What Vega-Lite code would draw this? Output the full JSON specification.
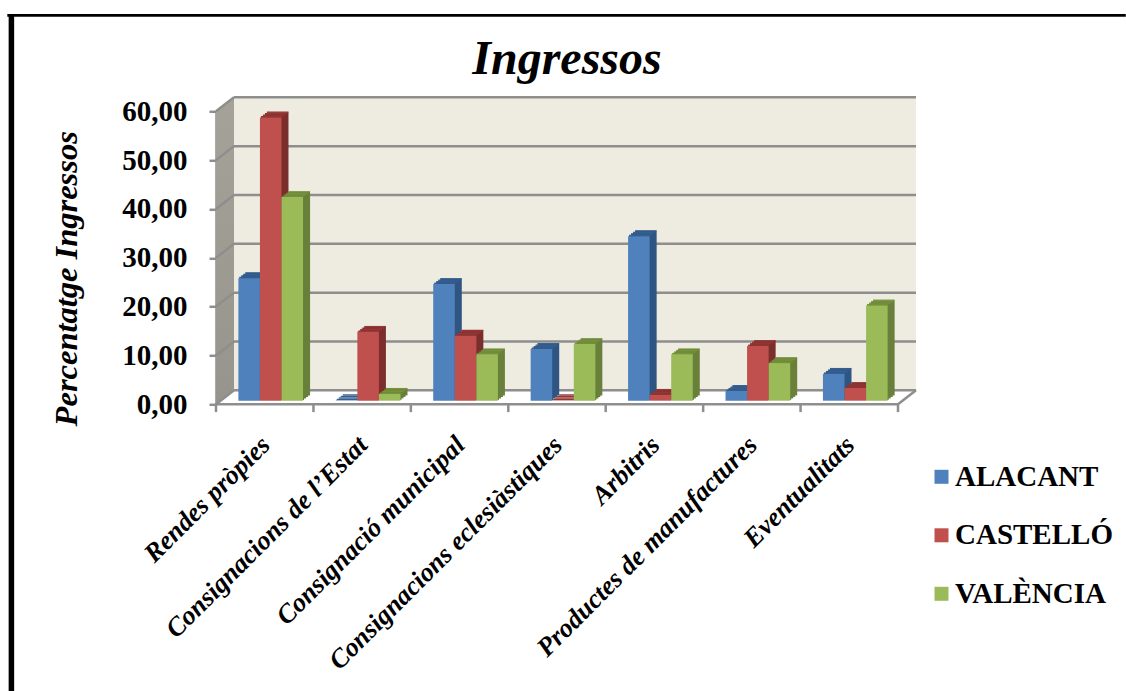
{"$schema":"https://vega.github.io/schema/vega-lite/v6.json","width":682,"height":293,"autosize":{"type":"none"},"padding":{"left":216,"top":111.3,"right":228,"bottom":286.7},"background":"white","config":{"view":{"stroke":null}},
"title":{"text":"Ingressos","font":"Liberation Serif","fontSize":48,"fontWeight":"bold","fontStyle":"italic","color":"black","anchor":"middle","dx":10,"offset":-73},
"datasets":{"bars":[
{"cat":"Rendes pròpies","s":"ALACANT","v":25.1},{"cat":"Rendes pròpies","s":"CASTELLÓ","v":58.0},{"cat":"Rendes pròpies","s":"VALÈNCIA","v":41.7},
{"cat":"Consignacions de l’Estat","s":"ALACANT","v":0.1},{"cat":"Consignacions de l’Estat","s":"CASTELLÓ","v":14.1},{"cat":"Consignacions de l’Estat","s":"VALÈNCIA","v":1.4},
{"cat":"Consignació municipal","s":"ALACANT","v":23.9},{"cat":"Consignació municipal","s":"CASTELLÓ","v":13.3},{"cat":"Consignació municipal","s":"VALÈNCIA","v":9.5},
{"cat":"Consignacions eclesiàstiques","s":"ALACANT","v":10.6},{"cat":"Consignacions eclesiàstiques","s":"CASTELLÓ","v":0.1},{"cat":"Consignacions eclesiàstiques","s":"VALÈNCIA","v":11.6},
{"cat":"Arbitris","s":"ALACANT","v":33.7},{"cat":"Arbitris","s":"CASTELLÓ","v":1.2},{"cat":"Arbitris","s":"VALÈNCIA","v":9.5},
{"cat":"Productes de manufactures","s":"ALACANT","v":2.0},{"cat":"Productes de manufactures","s":"CASTELLÓ","v":11.2},{"cat":"Productes de manufactures","s":"VALÈNCIA","v":7.7},
{"cat":"Eventualitats","s":"ALACANT","v":5.5},{"cat":"Eventualitats","s":"CASTELLÓ","v":2.6},{"cat":"Eventualitats","s":"VALÈNCIA","v":19.5}],
"side":[{"x":0,"y":0,"y2":60},{"x":0.0264,"y":2.87,"y2":62.87}],
"wall":[{"x":0,"x2":1,"y":0,"y2":60}],
"grid":[{"x":0,"x2":1,"y":0},{"x":0,"x2":1,"y":10},{"x":0,"x2":1,"y":20},{"x":0,"x2":1,"y":30},{"x":0,"x2":1,"y":40},{"x":0,"x2":1,"y":50},{"x":0,"x2":1,"y":60}],
"diag":[{"k":0,"x":0,"y":0},{"k":0,"x":0.0264,"y":2.87},{"k":10,"x":0,"y":10},{"k":10,"x":0.0264,"y":12.87},{"k":20,"x":0,"y":20},{"k":20,"x":0.0264,"y":22.87},{"k":30,"x":0,"y":30},{"k":30,"x":0.0264,"y":32.87},{"k":40,"x":0,"y":40},{"k":40,"x":0.0264,"y":42.87},{"k":50,"x":0,"y":50},{"k":50,"x":0.0264,"y":52.87},{"k":60,"x":0,"y":60},{"k":60,"x":0.0264,"y":62.87},{"k":70,"x":1,"y":0},{"k":70,"x":1.0264,"y":2.87}],
"floorticks":[{"x":0,"y":0,"y2":-1.6},{"x":0.1429,"y":0,"y2":-1.6},{"x":0.2857,"y":0,"y2":-1.6},{"x":0.4286,"y":0,"y2":-1.6},{"x":0.5714,"y":0,"y2":-1.6},{"x":0.7143,"y":0,"y2":-1.6},{"x":0.8571,"y":0,"y2":-1.6},{"x":1,"y":0,"y2":-1.6}],
"front":[{"x":0,"x2":1,"y":0}],
"frameL":[{"x":-0.3,"y":79.9,"y2":-58.7}],
"frameT":[{"x":-0.306,"x2":1.334,"y":79.66}]},
"resolve":{"scale":{"x":"independent","color":"independent"}},
"layer":[
{"data":{"name":"side"},"mark":{"type":"area","orient":"vertical","color":{"x1":0,"y1":0,"x2":0,"y2":1,"gradient":"linear","stops":[{"offset":0,"color":"#a5a299"},{"offset":1,"color":"#96948c"}]}},"encoding":{"x":{"field":"x","type":"quantitative","scale":{"domain":[0,1],"nice":false,"zero":false},"axis":null},"y":{"field":"y","type":"quantitative","scale":{"domain":[0,60],"nice":false},"axis":{"values":[0,10,20,30,40,50,60],"grid":false,"title":"Percentatge Ingressos","titleFont":"Liberation Serif","titleFontSize":32.5,"titleFontWeight":"bold","titleFontStyle":"italic","titleColor":"black","titleX":-133,"titleY":167,"labelFont":"Liberation Serif","labelFontSize":29,"labelFontWeight":"bold","labelColor":"black","labelPadding":22,"labelExpr":"replace(format(datum.value,'.2f'),'.',',')","tickColor":"#8e8e8e","tickWidth":2.5,"tickSize":7,"domainColor":"#8e8e8e","domainWidth":2.5}},"y2":{"field":"y2"}}},
{"data":{"name":"wall"},"mark":{"type":"rect","color":"#eeebe0","xOffset":18,"x2Offset":18,"yOffset":-14,"y2Offset":-14},"encoding":{"x":{"field":"x","type":"quantitative","scale":{"domain":[0,1],"nice":false,"zero":false},"axis":null},"x2":{"field":"x2"},"y":{"field":"y","type":"quantitative"},"y2":{"field":"y2"}}},
{"data":{"name":"grid"},"mark":{"type":"rule","color":"#8e8e8e","strokeWidth":2.5,"xOffset":18,"x2Offset":18,"yOffset":-14},"encoding":{"x":{"field":"x","type":"quantitative","scale":{"domain":[0,1],"nice":false,"zero":false},"axis":null},"x2":{"field":"x2"},"y":{"field":"y","type":"quantitative"}}},
{"data":{"name":"diag"},"mark":{"type":"line","color":"#8e8e8e","strokeWidth":2.5},"encoding":{"x":{"field":"x","type":"quantitative","scale":{"domain":[0,1],"nice":false,"zero":false},"axis":null},"y":{"field":"y","type":"quantitative"},"detail":{"field":"k"}}},
{"data":{"name":"front"},"mark":{"type":"rule","color":"#8e8e8e","strokeWidth":2.5},"encoding":{"x":{"field":"x","type":"quantitative","scale":{"domain":[0,1],"nice":false,"zero":false},"axis":null},"x2":{"field":"x2"},"y":{"field":"y","type":"quantitative"}}},
{"data":{"name":"floorticks"},"mark":{"type":"rule","color":"#8e8e8e","strokeWidth":2.5},"encoding":{"x":{"field":"x","type":"quantitative","scale":{"domain":[0,1],"nice":false,"zero":false},"axis":null},"y":{"field":"y","type":"quantitative"},"y2":{"field":"y2"}}},
{"data":{"name":"frameL"},"mark":{"type":"rule","color":"black","strokeWidth":5.5},"encoding":{"x":{"field":"x","type":"quantitative","scale":{"domain":[0,1],"nice":false,"zero":false},"axis":null},"y":{"field":"y","type":"quantitative"},"y2":{"field":"y2"}}},
{"data":{"name":"frameT"},"mark":{"type":"rule","color":"black","strokeWidth":2.8},"encoding":{"x":{"field":"x","type":"quantitative","scale":{"domain":[0,1],"nice":false,"zero":false},"axis":null},"x2":{"field":"x2"},"y":{"field":"y","type":"quantitative"}}},

{"data":{"name":"bars"},"mark":{"type":"bar","yOffset":-8.92,"y2Offset":-8.92},"encoding":{"x":{"field":"cat","type":"nominal","sort":null,"scale":{"paddingInner":0.336,"paddingOuter":0.168,"range":[13,695]},"axis":null},"xOffset":{"field":"s","type":"nominal","sort":null,"scale":{"paddingInner":0,"paddingOuter":0}},"y":{"field":"v","type":"quantitative"},"y2":{"datum":0},"color":{"field":"s","type":"nominal","legend":null,"scale":{"domain":["ALACANT","CASTELLÓ","VALÈNCIA"],"range":["#2f5582","#7b2f2d","#68803a"]}}}},
{"data":{"name":"bars"},"mark":{"type":"bar","yOffset":-9.5,"y2Offset":-8.3},"encoding":{"x":{"field":"cat","type":"nominal","sort":null,"scale":{"paddingInner":0.336,"paddingOuter":0.168,"range":[13,695]},"axis":null},"xOffset":{"field":"s","type":"nominal","sort":null,"scale":{"paddingInner":0,"paddingOuter":0}},"y":{"field":"v","type":"quantitative"},"y2":{"field":"v"},"color":{"field":"s","type":"nominal","legend":null,"scale":{"domain":["ALACANT","CASTELLÓ","VALÈNCIA"],"range":["#365f91","#943634","#76923c"]}}}},
{"data":{"name":"bars"},"mark":{"type":"bar","yOffset":-7.4,"y2Offset":-7.4},"encoding":{"x":{"field":"cat","type":"nominal","sort":null,"scale":{"paddingInner":0.336,"paddingOuter":0.168,"range":[11,693]},"axis":null},"xOffset":{"field":"s","type":"nominal","sort":null,"scale":{"paddingInner":0,"paddingOuter":0}},"y":{"field":"v","type":"quantitative"},"y2":{"datum":0},"color":{"field":"s","type":"nominal","legend":null,"scale":{"domain":["ALACANT","CASTELLÓ","VALÈNCIA"],"range":["#2f5582","#7b2f2d","#68803a"]}}}},
{"data":{"name":"bars"},"mark":{"type":"bar","yOffset":-8,"y2Offset":-6.8},"encoding":{"x":{"field":"cat","type":"nominal","sort":null,"scale":{"paddingInner":0.336,"paddingOuter":0.168,"range":[11,693]},"axis":null},"xOffset":{"field":"s","type":"nominal","sort":null,"scale":{"paddingInner":0,"paddingOuter":0}},"y":{"field":"v","type":"quantitative"},"y2":{"field":"v"},"color":{"field":"s","type":"nominal","legend":null,"scale":{"domain":["ALACANT","CASTELLÓ","VALÈNCIA"],"range":["#365f91","#943634","#76923c"]}}}},
{"data":{"name":"bars"},"mark":{"type":"bar","yOffset":-5.9,"y2Offset":-5.9},"encoding":{"x":{"field":"cat","type":"nominal","sort":null,"scale":{"paddingInner":0.336,"paddingOuter":0.168,"range":[9,691]},"axis":null},"xOffset":{"field":"s","type":"nominal","sort":null,"scale":{"paddingInner":0,"paddingOuter":0}},"y":{"field":"v","type":"quantitative"},"y2":{"datum":0},"color":{"field":"s","type":"nominal","legend":null,"scale":{"domain":["ALACANT","CASTELLÓ","VALÈNCIA"],"range":["#2f5582","#7b2f2d","#68803a"]}}}},
{"data":{"name":"bars"},"mark":{"type":"bar","yOffset":-6.5,"y2Offset":-5.3},"encoding":{"x":{"field":"cat","type":"nominal","sort":null,"scale":{"paddingInner":0.336,"paddingOuter":0.168,"range":[9,691]},"axis":null},"xOffset":{"field":"s","type":"nominal","sort":null,"scale":{"paddingInner":0,"paddingOuter":0}},"y":{"field":"v","type":"quantitative"},"y2":{"field":"v"},"color":{"field":"s","type":"nominal","legend":null,"scale":{"domain":["ALACANT","CASTELLÓ","VALÈNCIA"],"range":["#365f91","#943634","#76923c"]}}}},
{"data":{"name":"bars"},"mark":{"type":"bar","yOffset":-4.4,"y2Offset":-4.4},"encoding":{"x":{"field":"cat","type":"nominal","sort":null,"scale":{"paddingInner":0.336,"paddingOuter":0.168,"range":[7,689]},"axis":null},"xOffset":{"field":"s","type":"nominal","sort":null,"scale":{"paddingInner":0,"paddingOuter":0}},"y":{"field":"v","type":"quantitative"},"y2":{"datum":0},"color":{"field":"s","type":"nominal","legend":null,"scale":{"domain":["ALACANT","CASTELLÓ","VALÈNCIA"],"range":["#2f5582","#7b2f2d","#68803a"]}}}},
{"data":{"name":"bars"},"mark":{"type":"bar","yOffset":-5,"y2Offset":-3.8},"encoding":{"x":{"field":"cat","type":"nominal","sort":null,"scale":{"paddingInner":0.336,"paddingOuter":0.168,"range":[7,689]},"axis":null},"xOffset":{"field":"s","type":"nominal","sort":null,"scale":{"paddingInner":0,"paddingOuter":0}},"y":{"field":"v","type":"quantitative"},"y2":{"field":"v"},"color":{"field":"s","type":"nominal","legend":null,"scale":{"domain":["ALACANT","CASTELLÓ","VALÈNCIA"],"range":["#365f91","#943634","#76923c"]}}}},

{"data":{"name":"bars"},"mark":{"type":"bar","yOffset":-3.6,"y2Offset":-3.6},"encoding":{"x":{"field":"cat","type":"nominal","sort":null,"scale":{"paddingInner":0.336,"paddingOuter":0.168,"range":[6,688]},"axis":{"title":null,"domain":false,"ticks":false,"grid":false,"labelAngle":-45,"labelAlign":"right","labelBaseline":"top","labelFont":"Liberation Serif","labelFontSize":26.5,"labelFontWeight":"bold","labelFontStyle":"italic","labelColor":"black","labelPadding":27,"labelOffset":-14,"labelOverlap":false,"labelLimit":500}},"xOffset":{"field":"s","type":"nominal","sort":null,"scale":{"paddingInner":0,"paddingOuter":0}},"y":{"field":"v","type":"quantitative"},"y2":{"datum":0},"color":{"field":"s","type":"nominal","scale":{"domain":["ALACANT","CASTELLÓ","VALÈNCIA"],"range":["#4f81bd","#c0504d","#9bbb59"]},"legend":{"orient":"none","legendX":711,"legendY":351,"title":null,"symbolType":"square","symbolSize":196,"symbolStrokeWidth":0,"labelFont":"Liberation Serif","labelFontSize":29,"labelFontWeight":"bold","labelColor":"black","labelOffset":-1,"labelLimit":300,"rowPadding":28.5}}}}
]}
